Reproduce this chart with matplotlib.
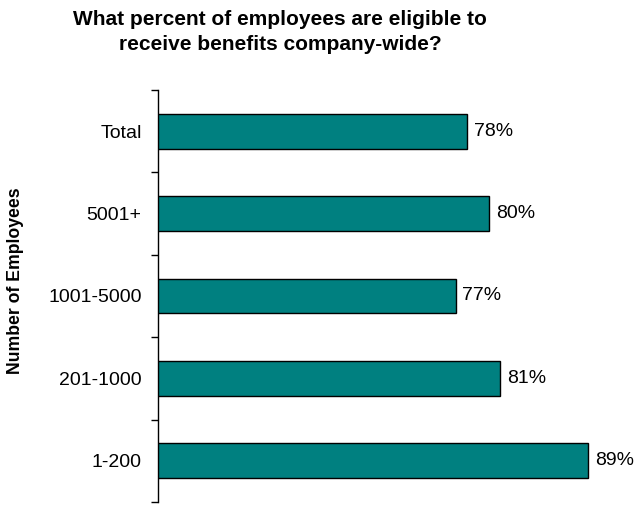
import numpy as np
import matplotlib.pyplot as plt
from matplotlib.ticker import FixedLocator, NullFormatter

plt.rcParams['font.family'] = ['Liberation Sans', 'DejaVu Sans']

categories = ['Total', '5001+', '1001-5000', '201-1000', '1-200']
percents = [78, 80, 77, 81, 89]

fig = plt.figure(figsize=(6.37, 5.08), dpi=100)
W, H = 637, 508
# axes box in pixels: left spine at x=157, spans y 90..502
ax = fig.add_axes([157.5 / W, (H - 502) / H, 442 / W, 412 / H])

pos = np.arange(len(categories))
ax.barh(pos, percents, height=0.42, color='#008080', edgecolor='black', linewidth=1.0)

for y, v in zip(pos, percents):
    ax.text(v + 0.6, y, f'{v}%', va='center', ha='left', fontsize=14)

ax.set_xlim(50, 90)
ax.set_ylim(len(categories) - 0.5, -0.5)

# labels at bar centres, tick marks between categories
ax.set_yticks(pos)
ax.set_yticklabels(categories, fontsize=14)
ax.tick_params(axis='y', which='major', length=0, pad=11.5)
ax.yaxis.set_minor_locator(FixedLocator(np.arange(-0.5, len(categories), 1.0)))
ax.yaxis.set_minor_formatter(NullFormatter())
ax.tick_params(axis='y', which='minor', length=5, width=1.0, direction='out')

ax.set_xticks([])
for s in ['top', 'right', 'bottom']:
    ax.spines[s].set_visible(False)
ax.spines['left'].set_linewidth(1.0)

ax.set_ylabel('Number of Employees', fontsize=12.7, fontweight='bold')
ax.yaxis.set_label_coords((24 - 157.5) / 442, (502 - 281) / 412)

fig.text(280 / W, 1 - 32 / H, 'What percent of employees are eligible to\nreceive benefits company-wide?',
         ha='center', va='center', fontsize=15, fontweight='bold', linespacing=1.35)

fig.savefig('out.png', dpi=100)
